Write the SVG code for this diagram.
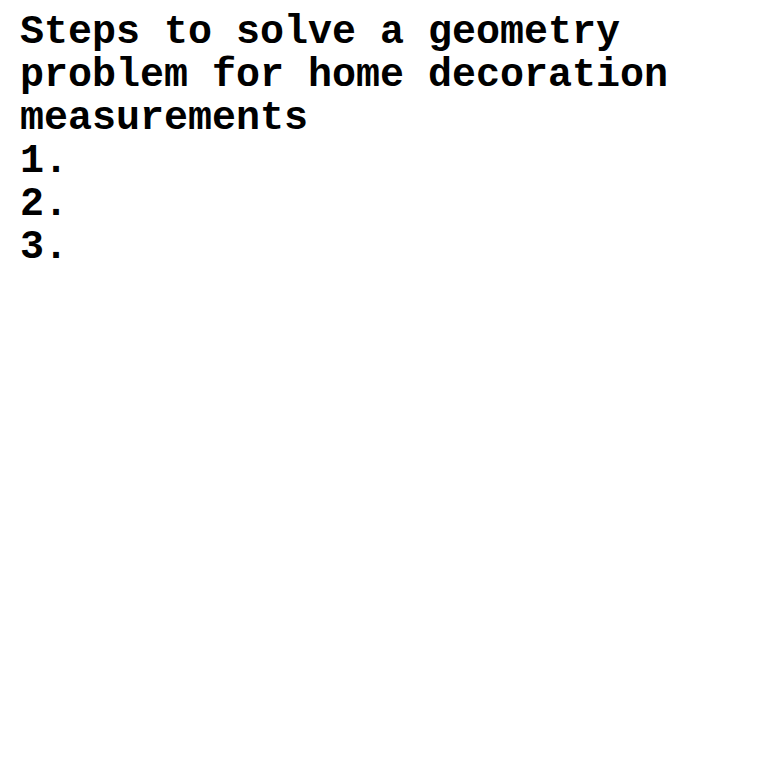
<svg xmlns="http://www.w3.org/2000/svg" width="760" height="760" viewBox="0 0 760 760">
<style>
.t{font-family:"Courier New","Nimbus Mono PS","Nimbus Mono L",FreeMono,Courier,"Liberation Mono",monospace;font-weight:bold;font-size:40px;fill:#000}
</style>
<rect width="760" height="760" fill="#fff"/>
<g id="title">
<text class="t" x="20" y="43">Steps to solve a geometry</text>
<text class="t" x="20" y="86">problem for home decoration</text>
<text class="t" x="20" y="129">measurements</text>
</g>
<g id="steps">
<text class="t" x="20" y="172">1.</text>
<text class="t" x="20" y="215">2.</text>
<text class="t" x="20" y="258">3.</text>
</g>
</svg>
